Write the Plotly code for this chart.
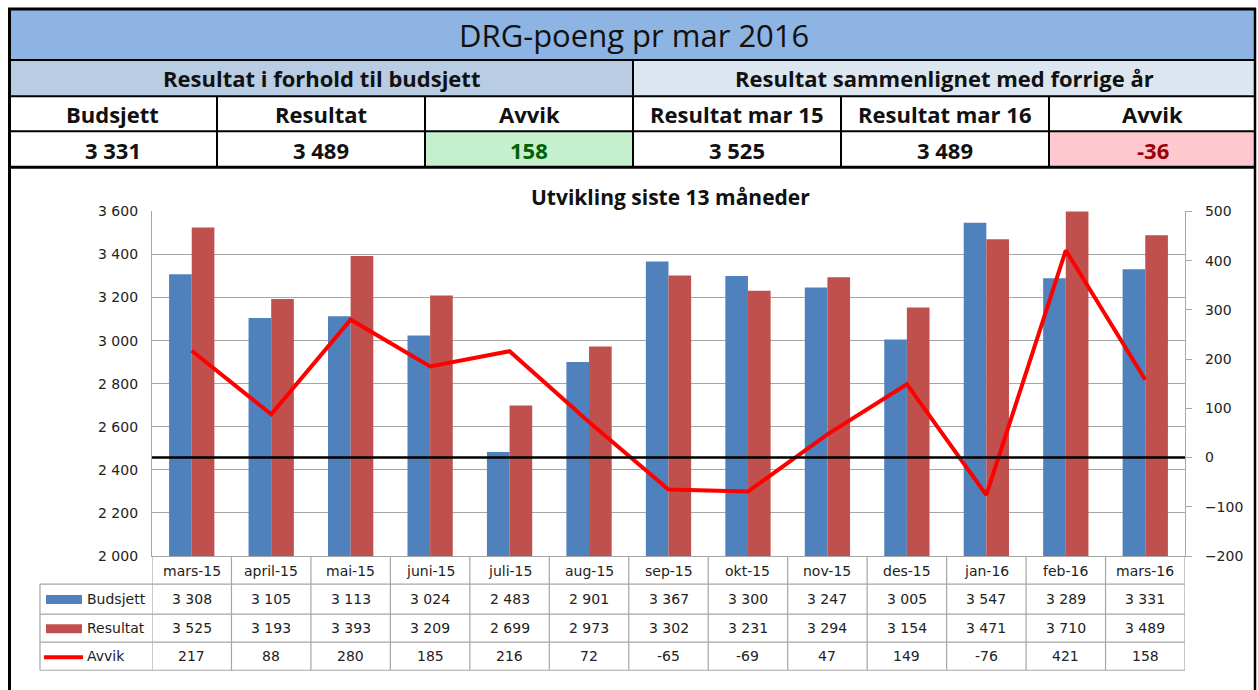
import plotly.graph_objects as go

# ---------------- data ----------------
months = ["mars-15", "april-15", "mai-15", "juni-15", "juli-15", "aug-15", "sep-15",
          "okt-15", "nov-15", "des-15", "jan-16", "feb-16", "mars-16"]
budsjett = [3308, 3105, 3113, 3024, 2483, 2901, 3367, 3300, 3247, 3005, 3547, 3289, 3331]
resultat = [3525, 3193, 3393, 3209, 2699, 2973, 3302, 3231, 3294, 3154, 3471, 3710, 3489]
avvik = [217, 88, 280, 185, 216, 72, -65, -69, 47, 149, -76, 421, 158]

title_text = "DRG-poeng pr mar 2016"
chart_title = "Utvikling siste 13 måneder"
group_left = "Resultat i forhold til budsjett"
group_right = "Resultat sammenlignet med forrige år"
head_labels = ["Budsjett", "Resultat", "Avvik", "Resultat mar 15", "Resultat mar 16", "Avvik"]
head_values = [budsjett[-1], resultat[-1], resultat[-1] - budsjett[-1],
               resultat[0], resultat[-1], resultat[-1] - resultat[0]]

y1_ticks = [2000, 2200, 2400, 2600, 2800, 3000, 3200, 3400, 3600]
y2_ticks = [-200, -100, 0, 100, 200, 300, 400, 500]

# ---------------- geometry helpers ----------------
W, H = 1258, 690
Y_OFF, Y_SCALE = 8.0, 0.975   # compensates the vertical offset/scale seen in the capture


def px(x):
    return x / W


def py(y):
    return 1 - ((y - Y_OFF) / Y_SCALE) / H


def fmt(v):
    return f"{v:,}".replace(",", " ")


BLUE = "#4F81BD"
RED = "#C0504D"
LINE_RED = "#FF0000"
GRID = "#A6A6A6"
HFONT = "Open Sans"
CFONT = "DejaVu Sans"

x_idx = list(range(len(months)))

fig = go.Figure()
fig.add_trace(go.Bar(x=x_idx, y=budsjett, name="Budsjett", marker_color=BLUE,
                     marker_line_width=0, yaxis="y"))
fig.add_trace(go.Bar(x=x_idx, y=resultat, name="Resultat", marker_color=RED,
                     marker_line_width=0, yaxis="y"))
fig.add_trace(go.Scatter(x=x_idx, y=avvik, name="Avvik", mode="lines",
                         line=dict(color=LINE_RED, width=4), yaxis="y2"))

shapes = []
annotations = []


def ann(text, x, y, size, family, color="#111111", xref="paper", xanchor="center"):
    annotations.append(dict(text=text, x=x, y=py(y), xref=xref, yref="paper",
                            xanchor=xanchor, yanchor="middle", showarrow=False,
                            font=dict(family=family, size=size, color=color)))


def rect(x0, y0, x1, y1, fill):
    shapes.append(dict(type="rect", xref="paper", yref="paper", x0=px(x0), x1=px(x1),
                       y0=py(y1), y1=py(y0), fillcolor=fill, line_width=0, layer="below"))


def line(x0, y0, x1, y1, color="black", width=2, xref="paper", layer="above"):
    if xref == "paper":
        xa, xb = px(x0), px(x1)
    else:
        xa, xb = x0, x1
    shapes.append(dict(type="line", xref=xref, yref="paper", x0=xa, x1=xb,
                       y0=py(y0), y1=py(y1), line=dict(color=color, width=width), layer=layer))


# ---------------- header table ----------------
rect(8, 10, 1256, 60, "#8DB4E2")
rect(8, 60, 633, 96, "#B8CCE4")
rect(633, 60, 1256, 96, "#DCE6F1")
rect(425, 131, 633, 167, "#C6EFCE")
rect(1049, 131, 1256, 167, "#FFC7CE")

line(8, 9, 1256, 9, width=3)
for yy in (60, 96, 131):
    line(8, yy, 1256, yy, width=2)
line(8, 167, 1256, 167, width=3)
line(633, 60, 633, 167, width=2)
for xx in (217, 425, 841, 1049):
    line(xx, 96, xx, 167, width=2)
line(9.5, 8, 9.5, 700, width=3)
line(1255, 8, 1255, 700, width=2.5)

ann(title_text, px(634), 35, 31, HFONT)
ann(f"<b>{group_left}</b>", px(321), 78, 22, HFONT)
ann(f"<b>{group_right}</b>", px(944), 78, 22, HFONT)
col_edges = [8, 217, 425, 633, 841, 1049, 1256]
val_colors = ["#111111", "#111111", "#006100", "#111111", "#111111", "#9C0006"]
for i, (lab, val) in enumerate(zip(head_labels, head_values)):
    cx = (col_edges[i] + col_edges[i + 1]) / 2
    ann(f"<b>{lab}</b>", px(cx), 114, 22, HFONT)
    ann(f"<b>{fmt(val)}</b>", px(cx), 150, 22, HFONT, color=val_colors[i])

# ---------------- chart title ----------------
ann(f"<b>{chart_title}</b>", px(670), 197, 21, HFONT)

# zero line of secondary axis
shapes.append(dict(type="line", xref="paper", yref="y2", x0=px(152), x1=px(1185), y0=0, y1=0,
                   line=dict(color="black", width=2.5), layer="above"))

# ---------------- data table ----------------
PLOT_L, PLOT_R = 152, 1185
for yy in (583, 613, 641, 669):
    line(40, yy, PLOT_R, yy, color=GRID, width=1.2)
line(40, 583, 40, 669, color=GRID, width=1.2)
for k in range(len(months) + 1):
    line(k - 0.5, 555, k - 0.5, 669, color=GRID, width=1.2, xref="x")

row_y = {"cat": 570, "b": 598, "r": 627, "a": 655}
for i, m in enumerate(months):
    ann(m, i, row_y["cat"], 14, CFONT, "#222222", xref="x")
    ann(fmt(budsjett[i]), i, row_y["b"], 14, CFONT, "#222222", xref="x")
    ann(fmt(resultat[i]), i, row_y["r"], 14, CFONT, "#222222", xref="x")
    ann(fmt(avvik[i]), i, row_y["a"], 14, CFONT, "#222222", xref="x")

# legend keys inside table
rect(46, 594, 82, 603, BLUE)
rect(46, 623, 82, 632, RED)
line(44, 656, 83, 656, color=LINE_RED, width=4)
for lab, key in (("Budsjett", "b"), ("Resultat", "r"), ("Avvik", "a")):
    ann(lab, px(85), row_y[key], 14, CFONT, "#222222", xanchor="left")

fig.update_layout(
    width=W, height=H,
    margin=dict(l=0, r=0, t=0, b=0),
    paper_bgcolor="white", plot_bgcolor="white",
    separators=", ",
    barmode="group", bargap=0.43, bargroupgap=0,
    showlegend=False,
    xaxis=dict(domain=[px(PLOT_L), px(PLOT_R)], range=[-0.5, len(months) - 0.5],
               showticklabels=False, ticks="", showgrid=False, zeroline=False,
               showline=True, linecolor=GRID, linewidth=1.2, mirror=False, fixedrange=True),
    yaxis=dict(domain=[py(555), py(211)], range=[y1_ticks[0], y1_ticks[-1]],
               tickvals=y1_ticks, tickformat=",d", showgrid=True, gridcolor=GRID, gridwidth=1.2,
               zeroline=False, showline=True, linecolor=GRID, linewidth=1.2, ticks="",
               ticklabelstandoff=10,
               tickfont=dict(family=CFONT, size=14, color="#222222")),
    yaxis2=dict(overlaying="y", side="right", range=[y2_ticks[0], y2_ticks[-1]],
                tickvals=y2_ticks, showgrid=False, zeroline=False, showline=True,
                linecolor=GRID, linewidth=1.2, ticks="outside", ticklen=6, tickcolor=GRID,
                ticklabelstandoff=10,
                tickfont=dict(family=CFONT, size=14, color="#222222")),
    shapes=shapes,
    annotations=annotations,
)

post = (
    "var d=document.getElementById('{plot_id}');"
    "document.documentElement.style.margin='0';document.body.style.margin='0';"
    "document.documentElement.style.overflow='hidden';document.body.style.overflow='hidden';"
    "d.style.position='fixed';d.style.left='0px';d.style.top='0px';"
)
fig.write_html("out.html", config={"displayModeBar": False}, post_script=post)
